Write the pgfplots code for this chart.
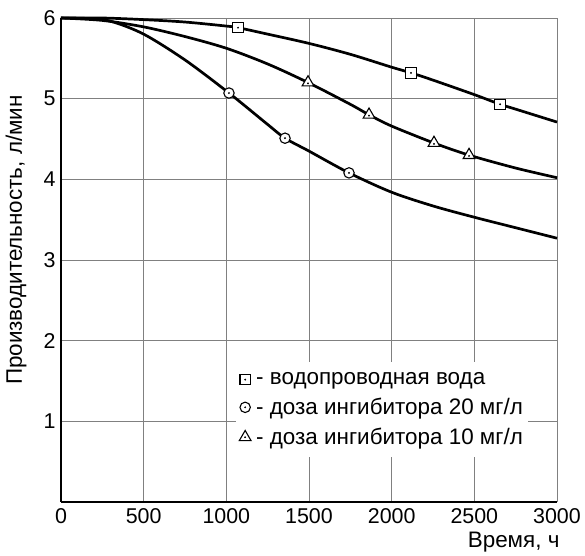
\documentclass[border=0pt]{standalone}
\usepackage{fontspec}
\setmainfont{Liberation Sans}
\usepackage{pgfplots}
\pgfplotsset{compat=1.18}
\usetikzlibrary{calc}

\begin{document}
\begin{tikzpicture}
\begin{axis}[
  name=ax,
  scale only axis,
  width=496bp, height=484bp,
  xmin=0, xmax=3000, ymin=0, ymax=6,
  xtick={0,500,...,3000},
  ytick={1,2,3,4,5,6},
  axis x line*=bottom, axis y line*=left,
  axis line style={-, black, line width=1.6bp},
  grid=major,
  major grid style={black!50, line width=0.9bp},
  major tick length=0pt,
  /pgf/number format/assume math mode=true,
  /pgf/number format/set thousands separator={},
  ticklabel style={font=\fontsize{21.5}{24}\selectfont},
  xticklabel style={yshift=-3bp},
  yticklabel style={xshift=-2bp},
  xlabel={Время, ч},
  xlabel style={font=\fontsize{22.5}{26}\selectfont, at={(rel axis cs:1.012,0)}, anchor=north east, yshift=-27bp},
  ylabel={Производительность, л/мин},
  ylabel style={font=\fontsize{22.5}{26}\selectfont, at={(rel axis cs:0,0.541)}, anchor=south, yshift=31bp},
  legend style={at={(rel axis cs:0.353,0.29)}, anchor=north west, draw=none, fill=white,
    font=\fontsize{22.5}{26}\selectfont, inner xsep=3bp, inner ysep=9bp, row sep=8bp},
  legend cell align=left,
  legend image code/.code={\draw[#1] plot[only marks] coordinates {(0.1cm,0cm)}; \fill[black] (0.1cm,0cm) circle (0.7bp); \path[draw=none, fill=none, mark=none] (0.1cm,0cm) -- (0.42cm,0cm);},
  clip=false,
]
% curves
\addplot[black, line width=2.7bp, smooth, forget plot] coordinates {
 (0,6.00) (250,6.00) (500,5.98) (750,5.95) (1000,5.90) (1071,5.88) (1250,5.80) (1500,5.685)
 (1750,5.55) (2000,5.39) (2117,5.32) (2250,5.23) (2500,5.05) (2656,4.93) (2750,4.87) (3000,4.71)};
\addplot[black, line width=2.7bp, smooth, forget plot] coordinates {
 (0,6.00) (150,5.995) (300,5.96) (500,5.80) (750,5.48) (1016,5.07) (1250,4.68) (1355,4.51) (1500,4.35)
 (1742,4.08) (2000,3.84) (2250,3.67) (2500,3.53) (2750,3.40) (3000,3.27)};
\addplot[black, line width=2.7bp, smooth, forget plot] coordinates {
 (0,6.00) (250,5.97) (500,5.89) (750,5.77) (1000,5.625) (1250,5.43) (1494,5.20) (1750,4.93)
 (1863,4.80) (2000,4.66) (2256,4.45) (2468,4.30) (2750,4.14) (3000,4.02)};
% markers
\addplot[only marks, mark=square*, mark size=5.2bp, mark options={fill=white, draw=black, line width=1.1bp}]
 coordinates {(1071,5.88) (2117,5.32) (2656,4.93)};
\addlegendentry{- водопроводная вода}
\addplot[only marks, mark=*, mark size=5.2bp, mark options={fill=white, draw=black, line width=1.1bp}]
 coordinates {(1016,5.07) (1355,4.51) (1742,4.08)};
\addlegendentry{- доза ингибитора 20 мг/л\hspace{16bp}}
\addplot[only marks, mark=triangle*, mark size=6.8bp, mark options={fill=white, draw=black, line width=1.1bp}]
 coordinates {(1494,5.20) (1863,4.80) (2256,4.45) (2468,4.30)};
\addlegendentry{- доза ингибитора 10 мг/л}
% centre dots
\addplot[only marks, mark=*, mark size=0.7bp, black, forget plot] coordinates {
 (1071,5.88) (2117,5.32) (2656,4.93) (1016,5.07) (1355,4.51) (1742,4.08)
 (1494,5.19) (1863,4.79) (2256,4.44) (2468,4.29)};
\end{axis}
\path ($(ax.south west)+(-61bp,-44bp)$) rectangle ++(585bp,546bp);
\end{tikzpicture}
\end{document}
